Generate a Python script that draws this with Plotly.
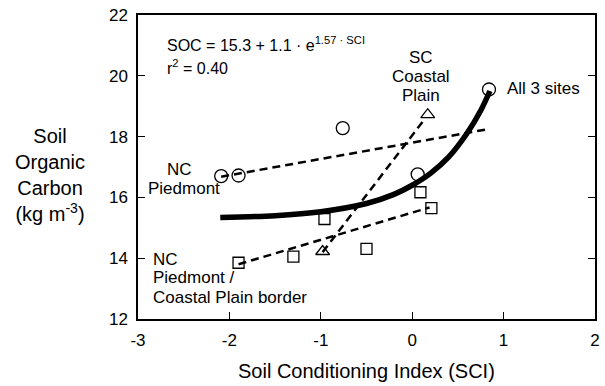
import plotly.graph_objects as go

# NC Piedmont (circles)
nc_x = [-2.09, -1.90, -0.76, 0.06, 0.84]
nc_y = [16.70, 16.72, 18.28, 16.76, 19.55]
# NC Piedmont / Coastal Plain border (squares)
bd_x = [-1.90, -1.30, -0.96, -0.50, 0.09, 0.21]
bd_y = [13.85, 14.05, 15.29, 14.31, 16.17, 15.65]
# SC Coastal Plain (triangles)
sc_x = [-0.98, 0.17]
sc_y = [14.22, 18.72]
# Fitted lines (endpoints)
nc_fit_x = [-2.09, 0.82]
nc_fit_y = [16.68, 18.24]
bd_fit_x = [-1.90, 0.19]
bd_fit_y = [13.80, 15.67]
sc_fit_x = [-0.98, 0.13]
sc_fit_y = [14.20, 18.55]
# All 3 sites curve
all_x = [-2.10, -1.50, -1.00, -0.50, -0.20, 0.00, 0.20, 0.40, 0.60, 0.75, 0.85]
all_y = [15.34, 15.40, 15.53, 15.80, 16.10, 16.40, 16.79, 17.33, 18.11, 18.86, 19.50]

x_ticks = [-3, -2, -1, 0, 1, 2]
y_ticks = [12, 14, 16, 18, 20, 22]

FONT = "Liberation Sans, Arial, sans-serif"
fig = go.Figure()

dash = "8px,5px"
for fx, fy in [(nc_fit_x, nc_fit_y), (bd_fit_x, bd_fit_y), (sc_fit_x, sc_fit_y)]:
    fig.add_trace(go.Scatter(x=fx, y=fy, mode="lines",
                             line=dict(color="black", width=2.5, dash=dash),
                             showlegend=False, hoverinfo="skip"))

fig.add_trace(go.Scatter(x=all_x, y=all_y, mode="lines",
                         line=dict(color="black", width=5.5, shape="spline"),
                         showlegend=False))

mk_line = dict(color="black", width=1.3)
fig.add_trace(go.Scatter(x=nc_x, y=nc_y, mode="markers",
                         marker=dict(symbol="circle-open", size=13, color="black", line=mk_line),
                         showlegend=False))
fig.add_trace(go.Scatter(x=bd_x, y=bd_y, mode="markers",
                         marker=dict(symbol="square-open", size=11, color="black", line=mk_line),
                         showlegend=False))
fig.add_trace(go.Scatter(x=sc_x, y=sc_y, mode="markers",
                         marker=dict(symbol="triangle-up-open", size=12, color="black", line=mk_line),
                         showlegend=False))

ann_font = dict(family=FONT, size=17, color="black")
eq_font = dict(family=FONT, size=16, color="black")
annotations = [
    dict(x=-2.705, y=21.03, xanchor="left", text="SOC = 15.3 + 1.1 · e<sup>1.57 · SCI</sup>", font=eq_font),
    dict(x=-2.705, y=20.29, xanchor="left", text="r<sup>2</sup> = 0.40", font=eq_font),
    dict(x=0.096, y=20.60, xanchor="center", text="SC", font=ann_font),
    dict(x=0.096, y=19.98, xanchor="center", text="Coastal", font=ann_font),
    dict(x=0.096, y=19.35, xanchor="center", text="Plain", font=ann_font),
    dict(x=1.015, y=19.57, xanchor="left", text="All 3 sites", font=ann_font),
    dict(x=-2.551, y=16.92, xanchor="center", text="NC", font=ann_font),
    dict(x=-2.497, y=16.29, xanchor="center", text="Piedmont", font=ann_font),
    dict(x=-2.858, y=13.97, xanchor="left", text="NC", font=ann_font),
    dict(x=-2.858, y=13.35, xanchor="left", text="Piedmont /", font=ann_font),
    dict(x=-2.858, y=12.72, xanchor="left", text="Coastal Plain border", font=ann_font),
    dict(xref="paper", yref="paper", x=-0.193, y=0.474, xanchor="center",
         align="center", text="Soil<br>Organic<br>Carbon<br>(kg m<sup>-3</sup>)",
         font=dict(family=FONT, size=20, color="black")),
    dict(xref="paper", yref="paper", x=0.5, y=-0.171, xanchor="center",
         text="Soil Conditioning Index (SCI)",
         font=dict(family=FONT, size=20, color="black")),
]
for a in annotations:
    a.setdefault("showarrow", False)
    a.setdefault("yanchor", "middle")
    fig.add_annotation(**a)

fig.update_layout(
    width=605, height=386,
    margin=dict(l=138, r=10, t=15, b=67),
    paper_bgcolor="white", plot_bgcolor="white",
    font=dict(family=FONT, size=17, color="black"),
    xaxis=dict(range=[-3, 2], tickvals=x_ticks, ticktext=[str(v) for v in x_ticks],
               ticks="inside", ticklen=7, tickwidth=1.3, tickcolor="black",
               showline=True, linecolor="black", linewidth=1.5, mirror=True,
               showgrid=False, zeroline=False, ticklabelstandoff=5, automargin=False),
    yaxis=dict(range=[12, 22], tickvals=y_ticks, ticktext=[str(v) for v in y_ticks],
               ticks="inside", ticklen=7, tickwidth=1.3, tickcolor="black",
               showline=True, linecolor="black", linewidth=1.5, mirror="ticks",
               showgrid=False, zeroline=False, ticklabelstandoff=5, automargin=False),
)

fig.write_html("out.html")
